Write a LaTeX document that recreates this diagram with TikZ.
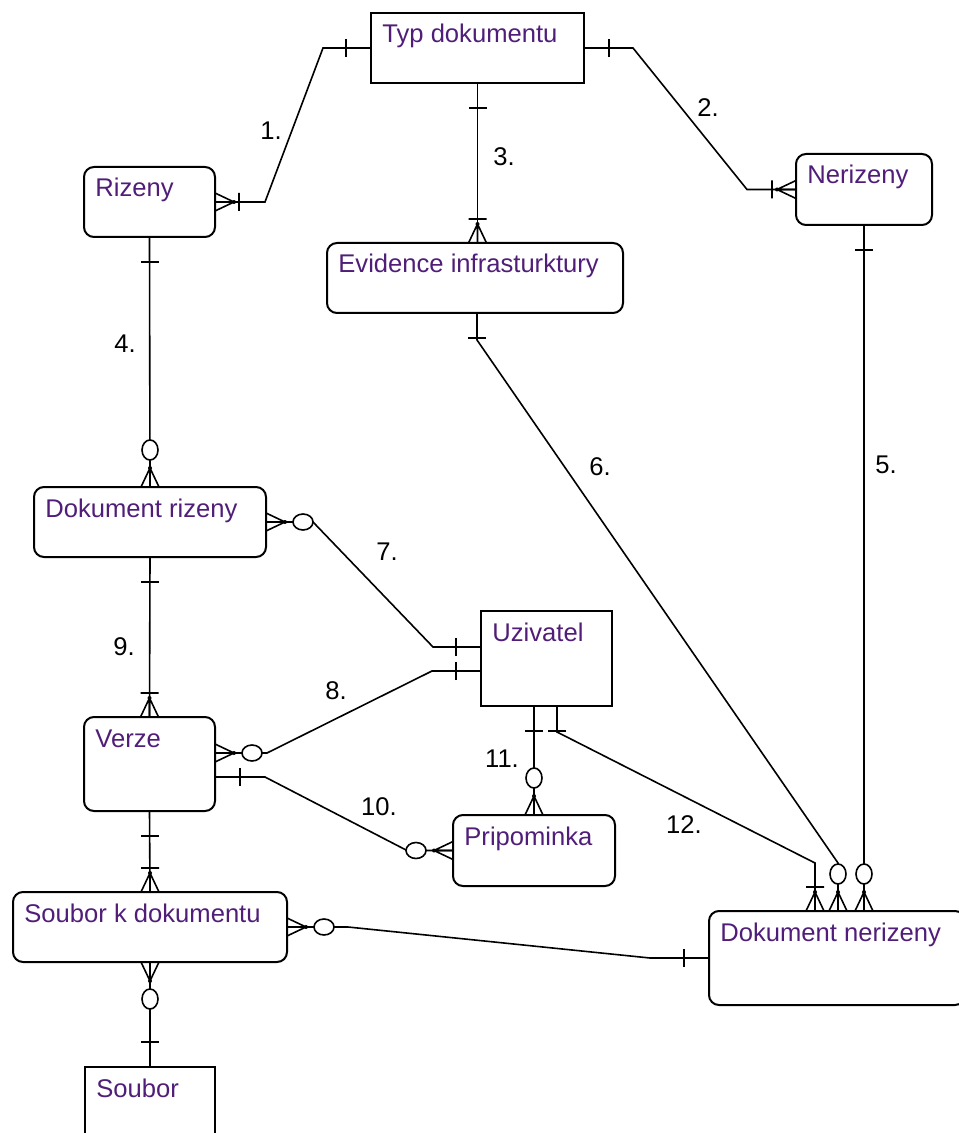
\documentclass[tikz,border=0pt]{standalone}
\usepackage{fontspec}
\setmainfont{Liberation Sans}
\usetikzlibrary{fit}

\definecolor{entcol}{RGB}{80,30,120}

\tikzset{
  ebox/.style={draw, line width=1pt, inner sep=0pt, outer sep=0pt},
  rbox/.style={ebox, rounded corners=5pt},
  ename/.style={anchor=base west, shift={(11,30)}, inner sep=0pt, text=entcol},
  lbl/.style={inner sep=0pt, text=black},
  conn/.style={line width=0.8pt},
  % notation at the end of a relationship
  one/.pic={\draw[conn] (25,-9) -- (25,9);},
  onemany/.pic={\draw[conn] (0,9) -- (19,0) -- (0,-9) (0,0) -- (19,0) (24,-9) -- (24,9);
             \fill (19,0) circle (1pt);},
  zeromany/.pic={\draw[conn] (0,9) -- (19,0) -- (0,-9) (0,0) -- (19,0);
             \fill (19,0) circle (1pt);
             \draw[conn, fill=white] (37,0) ellipse [x radius=5pt, y radius=4pt];}
}

\begin{document}
\begin{tikzpicture}[x=0.5pt, y=-0.5pt, font=\fontsize{12.8}{15}\selectfont]

  \useasboundingbox (0,0) rectangle (958,1133);

  % entity
  \node[ebox, fit={(371,13) (584,83)}, label={[ename]north west:Typ dokumentu}] (typ) {};
  \node[rbox, fit={(84,167) (215,237)}, label={[ename]north west:Rizeny}] (rizeny) {};
  \node[rbox, fit={(796,154) (932,225)}, label={[ename]north west:Nerizeny}] (neriz) {};
  \node[rbox, fit={(327,243) (623,313)}, label={[ename]north west:Evidence infrasturktury}] (evid) {};
  \node[rbox, fit={(34,487) (266,557)}, label={[ename]north west:Dokument rizeny}] (dokriz) {};
  \node[ebox, fit={(481,611) (612,706)}, label={[ename]north west:Uzivatel}] (uziv) {};
  \node[rbox, fit={(84,717) (215,811)}, label={[ename]north west:Verze}] (verze) {};
  \node[rbox, fit={(453,815) (615,886)}, label={[ename]north west:Pripominka}] (pripom) {};
  \node[rbox, fit={(13,892) (287,962)}, label={[ename]north west:Soubor k dokumentu}] (soubk) {};
  \node[rbox, fit={(709,911) (965,1005)}, label={[ename]north west:Dokument nerizeny}] (doknr) {};
  \node[ebox, fit={(85,1067) (215,1150)}, label={[ename]north west:Soubor}] (soubor) {};

  % bend points
  \coordinate (k1a) at (323,48);
  \coordinate (k1b) at (265,202);
  \coordinate (k2a) at (633,48);
  \coordinate (k2b) at (747,189.5);
  \coordinate (k6a) at (477,340);
  \coordinate (k6b) at (838,863);
  \coordinate (k7a) at (313,522);
  \coordinate (k7b) at (433,647);
  \coordinate (k8a) at (267,753);
  \coordinate (k8b) at (432,671);
  \coordinate (k10a) at (265,777);
  \coordinate (k10b) at (407,850.5);
  \coordinate (k12a) at (557,732);
  \coordinate (k12b) at (815,863);
  \coordinate (k14a) at (348,927);
  \coordinate (k14b) at (650,958);

  % relationship
  \draw[conn] (typ.west) -- (k1a) -- (k1b) -- (rizeny.east);
  \draw[conn] (typ.east) -- (k2a) -- (k2b) -- (neriz.west);
  \draw[conn] (typ.south) -- (typ.south |- evid.north);
  \draw[conn] (rizeny.south) -- (dokriz.north);
  \draw[conn] (neriz.south) -- (neriz.south |- doknr.north);
  \draw[conn] (k6a |- evid.south) -- (k6a) -- (k6b) -- (k6b |- doknr.north);
  \draw[conn] (dokriz.east) -- (k7a) -- (k7b) -- (uziv.west |- k7b);
  \draw[conn] (verze.east |- k8a) -- (k8a) -- (k8b) -- (uziv.west |- k8b);
  \draw[conn] (dokriz.south) -- (verze.north);
  \draw[conn] (verze.east |- k10a) -- (k10a) -- (k10b) -- (pripom.west);
  \draw[conn] (uziv.south -| pripom.north) -- (pripom.north);
  \draw[conn] (uziv.south -| k12a) -- (k12a) -- (k12b) -- (k12b |- doknr.north);
  \draw[conn] (verze.south) -- (soubk.north);
  \draw[conn] (soubk.east) -- (k14a) -- (k14b) -- (doknr.west);
  \draw[conn] (soubk.south) -- (soubor.north);

  % cardinality
  \pic[rotate=180] at (typ.west) {one};
  \pic at (rizeny.east) {onemany};
  \pic at (typ.east) {one};
  \pic[rotate=180] at (neriz.west) {onemany};
  \pic[rotate=-90] at (typ.south) {one};
  \pic[rotate=90] at (typ.south |- evid.north) {onemany};
  \pic[rotate=-90] at (rizeny.south) {one};
  \pic[rotate=90] at (dokriz.north) {zeromany};
  \pic[rotate=-90] at (neriz.south) {one};
  \pic[rotate=90] at (neriz.south |- doknr.north) {zeromany};
  \pic[rotate=-90] at (k6a |- evid.south) {one};
  \pic[rotate=90] at (k6b |- doknr.north) {zeromany};
  \pic at (dokriz.east) {zeromany};
  \pic[rotate=180] at (uziv.west |- k7b) {one};
  \pic at (verze.east |- k8a) {zeromany};
  \pic[rotate=180] at (uziv.west |- k8b) {one};
  \pic[rotate=-90] at (dokriz.south) {one};
  \pic[rotate=90] at (verze.north) {onemany};
  \pic at (verze.east |- k10a) {one};
  \pic[rotate=180] at (pripom.west) {zeromany};
  \pic[rotate=-90] at (uziv.south -| pripom.north) {one};
  \pic[rotate=90] at (pripom.north) {zeromany};
  \pic[rotate=-90] at (uziv.south -| k12a) {one};
  \pic[rotate=90] at (k12b |- doknr.north) {onemany};
  \pic[rotate=-90] at (verze.south) {one};
  \pic[rotate=90] at (soubk.north) {onemany};
  \pic at (soubk.east) {zeromany};
  \pic[rotate=180] at (doknr.west) {one};
  \pic[rotate=-90] at (soubk.south) {zeromany};
  \pic[rotate=90] at (soubor.north) {one};

  % numbers
  \node[lbl] (n1) at (271,131) {1.};
  \node[lbl] (n2) at (708,108) {2.};
  \node[lbl] (n3) at (504,157) {3.};
  \node[lbl] (n4) at (125,344) {4.};
  \node[lbl] (n5) at (886,465) {5.};
  \node[lbl] (n6) at (600,467) {6.};
  \node[lbl] (n7) at (387,552) {7.};
  \node[lbl] (n8) at (336,691) {8.};
  \node[lbl] (n9) at (124,647) {9.};
  \node[lbl] (n10) at (379,807) {10.};
  \node[lbl] (n11) at (502,759) {11.};
  \node[lbl] (n12) at (684,825) {12.};

\end{tikzpicture}
\end{document}
